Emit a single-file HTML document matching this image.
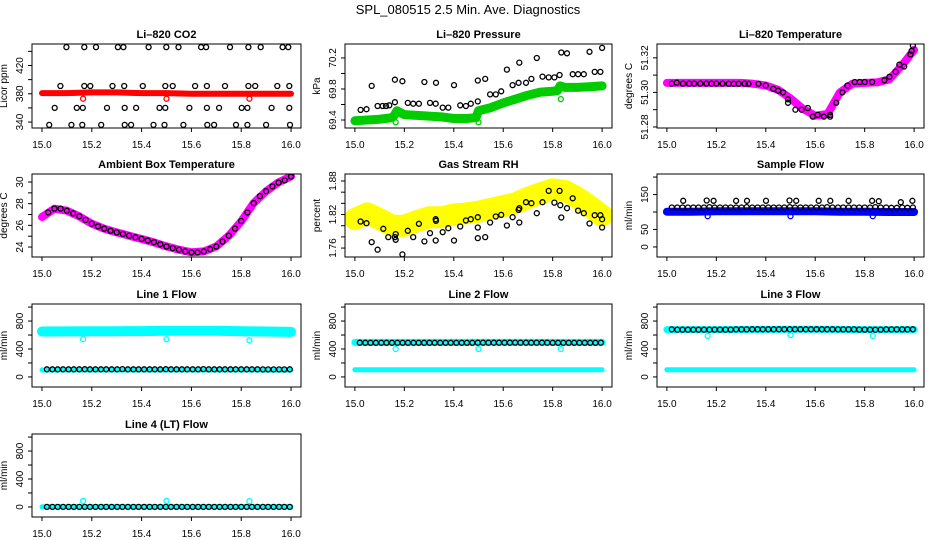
<!DOCTYPE html>
<html><head><meta charset="utf-8"><style>
html,body{margin:0;padding:0;background:#fff;}
svg{display:block;font-family:"Liberation Sans",Arial,sans-serif;}
</style></head><body>
<svg id="chart" width="936" height="540" viewBox="0 0 936 540" xmlns="http://www.w3.org/2000/svg">
<rect width="936" height="540" fill="#fff"/>
<text x="468" y="14" text-anchor="middle" font-size="13">SPL_080515  2.5 Min. Ave. Diagnostics</text>
</svg>
<script>
// ---- shared data ----
const xTicks = [15.0, 15.2, 15.4, 15.6, 15.8, 16.0];
const xTickLabels = ["15.0", "15.2", "15.4", "15.6", "15.8", "16.0"];
const T = [15.020,15.042,15.063,15.085,15.107,15.128,15.150,15.172,15.193,15.215,15.237,15.258,15.280,15.302,15.323,15.345,15.367,15.388,15.410,15.432,15.453,15.475,15.497,15.518,15.540,15.562,15.583,15.605,15.627,15.648,15.670,15.692,15.713,15.735,15.757,15.778,15.800,15.822,15.843,15.865,15.887,15.908,15.930,15.952,15.973,15.995];
const B11 = [15.0,15.1,15.2,15.3,15.4,15.5,15.6,15.7,15.8,15.9,16.0];
const B21 = [15.0,15.05,15.1,15.15,15.2,15.25,15.3,15.35,15.4,15.45,15.5,15.55,15.6,15.65,15.7,15.75,15.8,15.85,15.9,15.95,16.0];
const outX = [15.165, 15.5, 15.833];

// CO2
const co2BandY = [381,381,382,382,381,381,380,380,380,380,380];
const co2OutY = [373, 373, 373];
const co2BlackX = [15.098,15.170,15.217,15.305,15.327,15.428,15.499,15.548,15.639,15.659,15.755,15.829,15.878,15.966,15.989,
 15.074,15.170,15.194,15.283,15.330,15.405,15.495,15.525,15.615,15.662,15.735,15.829,15.856,15.945,15.993,
 15.051,15.140,15.164,15.261,15.332,15.378,15.472,15.495,15.592,15.662,15.711,15.802,15.825,15.922,15.993,
 15.029,15.118,15.162,15.238,15.332,15.358,15.448,15.492,15.568,15.664,15.691,15.779,15.825,15.900,15.996];
const co2BlackY = [446,446,446,446,446,446,446,446,446,446,446,446,446,446,446,
 391,391,391,391,391,391,391,391,391,391,391,391,391,391,391,
 360,360,360,360,360,360,360,360,360,360,360,360,360,360,360,
 336,336,336,336,336,336,336,336,336,336,336,336,336,336,336];

// Pressure
const presBandX = [15.0,15.05,15.1,15.15,15.16,15.17,15.2,15.25,15.3,15.35,15.4,15.45,15.49,15.5,15.55,15.6,15.65,15.7,15.75,15.8,15.82,15.83,15.85,15.9,15.95,16.0];
const presBandY = [69.39,69.40,69.41,69.43,69.46,69.52,69.47,69.46,69.45,69.44,69.42,69.42,69.43,69.52,69.56,69.62,69.67,69.72,69.76,69.77,69.78,69.84,69.82,69.82,69.83,69.84];
const presOutY = [69.37, 69.37, 69.67];
const presBlackX = [15.068,15.023,15.047,15.092,15.112,15.126,15.139,15.162,15.162,15.192,15.214,15.236,15.259,15.281,15.304,15.327,15.328,15.355,15.378,15.401,15.426,15.449,15.469,15.497,15.497,15.527,15.547,15.570,15.592,15.615,15.638,15.662,15.665,15.692,15.714,15.736,15.759,15.784,15.807,15.828,15.835,15.858,15.881,15.903,15.926,15.949,15.970,15.993,16.0];
const presBlackY = [69.84,69.53,69.54,69.58,69.58,69.58,69.59,69.63,69.92,69.90,69.62,69.61,69.61,69.89,69.62,69.61,69.88,69.56,69.56,69.85,69.59,69.58,69.61,69.64,69.91,69.93,69.73,69.73,69.77,70.05,69.85,69.88,70.14,69.88,69.93,70.20,69.96,69.95,69.95,69.98,70.27,70.26,69.99,69.99,69.99,70.28,70.02,70.02,70.33];

// Li-820 temperature
const tempBandY = [51.3055,51.3055,51.3055,51.3055,51.3055,51.3055,51.3055,51.305,51.304,51.3015,51.2965,51.2905,51.2865,51.2875,51.300,51.305,51.3055,51.3058,51.3075,51.3155,51.3245];
const tempBlackX = [15.02,15.04,15.065,15.09,15.11,15.135,15.16,15.18,15.2,15.225,15.25,15.27,15.29,15.315,15.33,15.37,15.40,15.43,15.45,15.47,15.49,15.49,15.52,15.545,15.57,15.59,15.61,15.635,15.66,15.66,15.685,15.71,15.73,15.76,15.78,15.80,15.83,15.88,15.90,15.925,15.94,15.96,15.985,15.99,15.995];
const tempBlackY = [51.3051,51.3056,51.3051,51.3051,51.3051,51.3051,51.3051,51.3051,51.3051,51.3051,51.3050,51.3050,51.3050,51.3051,51.3050,51.305,51.304,51.302,51.301,51.300,51.296,51.294,51.290,51.290,51.291,51.286,51.287,51.286,51.287,51.286,51.294,51.300,51.304,51.306,51.306,51.306,51.306,51.307,51.309,51.312,51.316,51.315,51.322,51.324,51.327];

// Ambient temperature
const ambBandY = [26.77,27.54,27.35,26.83,26.15,25.69,25.35,25.05,24.74,24.43,24.06,23.75,23.51,23.6,24.06,25.05,26.37,28.06,29.14,29.97,30.52];
const ambBlackX = [15.025,15.05,15.075,15.1,15.125,15.15,15.175,15.2,15.225,15.25,15.275,15.3,15.325,15.35,15.375,15.4,15.425,15.45,15.475,15.5,15.525,15.55,15.575,15.6,15.625,15.65,15.675,15.7,15.725,15.75,15.775,15.8,15.825,15.85,15.875,15.9,15.925,15.95,15.975,16.0];
const ambBlackY = [27.2,27.55,27.55,27.35,27.1,26.85,26.5,26.15,25.9,25.7,25.5,25.35,25.2,25.05,24.9,24.75,24.6,24.45,24.25,24.05,23.9,23.75,23.6,23.5,23.5,23.6,23.8,24.05,24.5,25.05,25.7,26.4,27.2,28.05,28.7,29.15,29.6,29.95,30.15,30.5];

// Gas stream RH
const rhBandY = [1.812,1.822,1.812,1.800,1.800,1.808,1.815,1.815,1.820,1.822,1.825,1.830,1.835,1.840,1.850,1.858,1.865,1.862,1.850,1.835,1.818];
const rhBlackX = [15.023,15.047,15.068,15.092,15.115,15.135,15.162,15.165,15.165,15.192,15.214,15.236,15.259,15.281,15.304,15.327,15.327,15.328,15.355,15.378,15.401,15.426,15.449,15.469,15.497,15.497,15.497,15.527,15.547,15.570,15.592,15.615,15.638,15.662,15.665,15.665,15.692,15.714,15.736,15.759,15.784,15.807,15.828,15.831,15.835,15.858,15.881,15.903,15.926,15.949,15.970,15.993,16.0,16.0];
const rhBlackY = [1.8075,1.8045,1.7707,1.757,1.7944,1.7796,1.7796,1.7849,1.7748,1.7487,1.7909,1.7796,1.8034,1.7719,1.7867,1.8117,1.7736,1.8087,1.7885,1.7956,1.7736,1.7986,1.8093,1.8117,1.8152,1.7968,1.7778,1.7796,1.8057,1.8164,1.8194,1.8004,1.8152,1.8283,1.8057,1.8313,1.842,1.8402,1.8224,1.842,1.8622,1.8414,1.8622,1.8366,1.8146,1.8313,1.8491,1.8271,1.8224,1.804,1.8188,1.8188,1.8117,1.7968];

// Sample flow
const sampBandY = [101,101,102,102,102,102,102,101,101,100,100];
const sampOutY = [88, 88, 88];
const sampLowY = [113,113,113,113,113,113,113,114,113,113,113,113,113,113,114,113,113,113,113,113,113,113,114,113,113,113,113,113,113,114,113,113,113,113,113,113,113,113,114,113,113,112,112,113,112,113];
const sampHighX = [15.066,15.161,15.189,15.280,15.324,15.401,15.496,15.523,15.614,15.661,15.735,15.830,15.857,15.946,15.993];
const sampHighY = [132,133,132,132,132,132,133,132,132,132,132,132,131,128,132];

// Line flows
const l1UpY = [650,652,655,655,656,660,662,660,655,650,645];
const l1LowY = [100,100,100,100,100,100,100,100,100,98,98];
const l1OutY = [540, 540, 525];
const l1BlackY = [110,110,110,110,110,110,110,111,110,110,110,110,110,110,112,110,110,110,110,110,110,110,111,110,110,110,110,110,110,112,110,110,110,110,110,110,110,110,110,110,108,108,108,108,108,110];
const l2UpY = [494,494,494,494,494,494,494,494,494,494,494];
const l2LowY = [104,104,104,104,104,104,104,104,104,104,104];
const l2OutY = [400, 400, 400];
const l2BlackY = [490,488,488,488,488,488,488,488,488,488,488,488,488,488,488,488,488,488,488,488,488,488,490,490,490,490,490,490,490,492,490,490,490,490,490,490,488,488,488,488,488,488,488,488,488,490];
const l3UpY = [678,678,678,680,680,682,682,680,678,678,678];
const l3LowY = [104,104,104,104,104,104,104,104,104,104,104];
const l3OutY = [588, 600, 588];
const l3BlackY = [680,676,676,676,676,676,676,676,678,678,678,678,680,680,680,682,682,682,682,682,682,682,682,682,682,682,682,682,682,682,682,680,680,680,680,678,678,676,676,678,680,680,680,680,680,682];
const l4BandY = [2,2,2,2,2,2,2,2,2,2,2];
const l4OutY = [86, 86, 82];
const l4BlackY = [0,0,0,0,0,0,0,0,0,0,0,0,0,0,0,0,0,0,0,0,0,0,0,0,0,0,0,0,0,0,0,0,0,0,0,0,0,0,0,0,0,0,0,0,0,0];

const flowTicks = [0,200,400,600,800,1000];
const flowLabels = ["0","","400","","800",""];

// ---- layout ----
const colL = [32, 345, 657], colR = [301, 612, 924];
const rowT = [44, 174, 304, 434], rowB = [128, 257, 387, 517];

const panels = [
 {id:"co2", title:"Li\u2013820 CO2", ytitle:"Licor ppm", c:0, r:0, ylim:[331.6,450.4], yt:[340,360,380,400,420,440], yl:["340","","380","","420",""],
  bands:[{x:B11,y:co2BandY,col:"#ff0000",w:6}], pts:[{x:outX,y:co2OutY,col:"#ff0000"},{x:co2BlackX,y:co2BlackY,col:"#000"}]},
 {id:"pressure", title:"Li\u2013820 Pressure", ytitle:"kPa", c:1, r:0, ylim:[69.297,70.38], yt:[69.4,69.6,69.8,70.0,70.2], yl:["69.4","","69.8","","70.2"],
  bands:[{x:presBandX,y:presBandY,col:"#00cc00",w:9}], pts:[{x:outX,y:presOutY,col:"#00cc00"},{x:presBlackX,y:presBlackY,col:"#000"}]},
 {id:"li820-temp", title:"Li\u2013820 Temperature", ytitle:"degrees C", c:2, r:0, ylim:[51.2794,51.328], yt:[51.28,51.29,51.30,51.31,51.32], yl:["51.28","","51.30","","51.32"],
  bands:[{x:B21,y:tempBandY,col:"#ff00ff",w:8}], pts:[{x:tempBlackX,y:tempBlackY,col:"#000"}]},
 {id:"ambient-temp", title:"Ambient Box Temperature", ytitle:"degrees C", c:0, r:1, ylim:[23.08,30.74], yt:[24,25,26,27,28,29,30], yl:["24","","26","","28","","30"],
  bands:[{x:B21,y:ambBandY,col:"#ff00ff",w:8}], pts:[{x:ambBlackX,y:ambBlackY,col:"#000"}]},
 {id:"rh", title:"Gas Stream RH", ytitle:"percent", c:1, r:1, ylim:[1.744,1.8925], yt:[1.76,1.78,1.80,1.82,1.84,1.86,1.88], yl:["1.76","","","1.82","","","1.88"],
  bands:[{x:B21,y:rhBandY,col:"#ffff00",w:22}], pts:[{x:rhBlackX,y:rhBlackY,col:"#000"}]},
 {id:"sample-flow", title:"Sample Flow", ytitle:"ml/min", c:2, r:1, ylim:[-28.8,208.8], yt:[0,50,100,150,200], yl:["0","50","","150",""],
  bands:[{x:B11,y:sampBandY,col:"#0000ff",w:8}], pts:[{x:outX,y:sampOutY,col:"#0000ff"},{x:T,y:sampLowY,col:"#000"},{x:sampHighX,y:sampHighY,col:"#000"}]},
 {id:"line1-flow", title:"Line 1 Flow", ytitle:"ml/min", c:0, r:2, ylim:[-144,1044], yt:flowTicks, yl:flowLabels,
  bands:[{x:B11,y:l1UpY,col:"#00ffff",w:10},{x:B11,y:l1LowY,col:"#00ffff",w:5}], pts:[{x:outX,y:l1OutY,col:"#00ffff"},{x:T,y:l1BlackY,col:"#000"}]},
 {id:"line2-flow", title:"Line 2 Flow", ytitle:"ml/min", c:1, r:2, ylim:[-144,1044], yt:flowTicks, yl:flowLabels,
  bands:[{x:B11,y:l2UpY,col:"#00ffff",w:7},{x:B11,y:l2LowY,col:"#00ffff",w:5}], pts:[{x:outX,y:l2OutY,col:"#00ffff"},{x:T,y:l2BlackY,col:"#000"}]},
 {id:"line3-flow", title:"Line 3 Flow", ytitle:"ml/min", c:2, r:2, ylim:[-144,1044], yt:flowTicks, yl:flowLabels,
  bands:[{x:B11,y:l3UpY,col:"#00ffff",w:7},{x:B11,y:l3LowY,col:"#00ffff",w:5}], pts:[{x:outX,y:l3OutY,col:"#00ffff"},{x:T,y:l3BlackY,col:"#000"}]},
 {id:"line4-flow", title:"Line 4 (LT) Flow", ytitle:"ml/min", c:0, r:3, ylim:[-144,1044], yt:flowTicks, yl:flowLabels,
  bands:[{x:B11,y:l4BandY,col:"#00ffff",w:5}], pts:[{x:outX,y:l4OutY,col:"#00ffff"},{x:T,y:l4BlackY,col:"#000"}]}
];

const NS = "http://www.w3.org/2000/svg";
const svg = document.getElementById("chart");
function mk(tag, attrs, parent) {
  const e = document.createElementNS(NS, tag);
  for (const k in attrs) e.setAttribute(k, attrs[k]);
  parent.appendChild(e);
  return e;
}

panels.forEach(p => {
  const L = colL[p.c], R = colR[p.c], Tp = rowT[p.r], Bt = rowB[p.r];
  const w = R - L;
  const pad = w * 0.04 / 1.08;
  const xs = v => (L + pad) + (v - 15) * (w - 2 * pad);
  const ys = v => Bt - (v - p.ylim[0]) / (p.ylim[1] - p.ylim[0]) * (Bt - Tp);

  const g = mk("g", {}, svg);
  
  

  const cp = mk("clipPath", {id: "clip-" + p.id}, g);
  mk("rect", {x: L, y: Tp, width: w, height: Bt - Tp}, cp);
  const plot = mk("g", {"clip-path": "url(#clip-" + p.id + ")"}, g);
  
  

  p.bands.forEach((b, i) => {
    const d = b.x.map((x, j) => (j ? "L" : "M") + xs(x).toFixed(1) + " " + ys(b.y[j]).toFixed(1)).join(" ");
    const pe = mk("path", {d: d, fill: "none", stroke: b.col, "stroke-width": b.w, "stroke-linejoin": "round", "stroke-linecap": "round"}, plot);
    
    
  });
  p.pts.forEach((s, i) => {
    s.x.forEach((x, j) => {
      const c = mk("circle", {cx: xs(x).toFixed(1), cy: ys(s.y[j]).toFixed(1), r: 2.5, fill: "none", stroke: s.col, "stroke-width": 1.3}, plot);
      
      
    });
  });

  const box = mk("rect", {x: L, y: Tp, width: w, height: Bt - Tp, fill: "none", stroke: "#000", "stroke-width": 1}, g);
  
  

  const t = mk("text", {x: (L + R) / 2, y: Tp - 6, "text-anchor": "middle", "font-size": 11, "font-weight": "bold"}, g);
  t.textContent = p.title;
  
  

  const yt = mk("text", {transform: "translate(" + (L - 25) + "," + ((Tp + Bt) / 2) + ") rotate(-90)", "text-anchor": "middle", "font-size": 10}, g);
  yt.textContent = p.ytitle;
  
  

  // x axis
  const xa = mk("g", {}, g);
  
  
  mk("line", {x1: xs(15), x2: xs(16), y1: Bt, y2: Bt, stroke: "#000"}, xa);
  xTicks.forEach((v, i) => {
    mk("line", {x1: xs(v), x2: xs(v), y1: Bt, y2: Bt + 4, stroke: "#000"}, xa);
    const lt = mk("text", {x: xs(v), y: Bt + 20, "text-anchor": "middle", "font-size": 10}, xa);
    lt.textContent = xTickLabels[i];
    
    
  });
  // y axis
  const ya = mk("g", {}, g);
  
  
  p.yt.forEach((v, i) => {
    const yy = ys(v);
    mk("line", {x1: L - 4, x2: L, y1: yy, y2: yy, stroke: "#000"}, ya);
    if (p.yl[i]) {
      const lt = mk("text", {transform: "translate(" + (L - 9) + "," + yy + ") rotate(-90)", "text-anchor": "middle", "font-size": 10}, ya);
      lt.textContent = p.yl[i];
      
      
    }
  });
});
</script>
</body></html>
